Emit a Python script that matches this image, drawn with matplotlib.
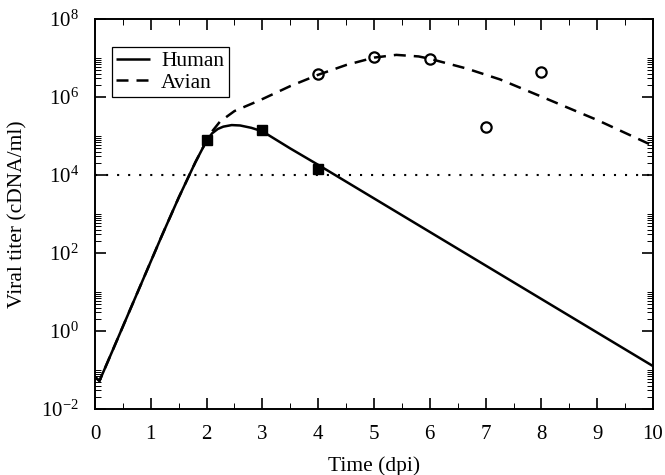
import matplotlib
matplotlib.use("Agg")
import matplotlib.pyplot as plt
import numpy as np
from matplotlib.ticker import FixedLocator, FixedFormatter, NullFormatter

plt.rcParams['font.family'] = ['Liberation Serif', 'DejaVu Serif']
plt.rcParams['mathtext.fontset'] = 'custom'
plt.rcParams['mathtext.rm'] = 'Liberation Serif'
plt.rcParams['mathtext.it'] = 'Liberation Serif:italic'

# ---- data (log10 of viral titer) ----
human_x = [0.0, 0.08, 0.3, 0.6, 0.9, 1.2, 1.5, 1.8, 2.0, 2.1, 2.2, 2.3, 2.45,
           2.6, 2.8, 3.0, 3.5, 4.0, 4.5, 5.0, 6.0, 7.0, 8.0, 9.0, 10.0]
human_log10 = [-1.18, -1.28, -0.55, 0.45, 1.45, 2.45, 3.42, 4.33, 4.88, 5.07,
               5.18, 5.24, 5.28, 5.27, 5.21, 5.12, 4.68, 4.26, 3.83, 3.40,
               2.54, 1.68, 0.82, -0.04, -0.90]

avian_x = [0.0, 0.08, 0.3, 0.6, 0.9, 1.2, 1.5, 1.8, 2.0, 2.1, 2.24, 2.5, 2.96,
           3.5, 4.0, 4.5, 5.0, 5.4, 5.8, 6.0, 6.66, 7.26, 8.0, 9.0, 10.0]
avian_log10 = [-1.18, -1.28, -0.55, 0.45, 1.45, 2.45, 3.42, 4.33, 4.88, 5.12,
               5.37, 5.64, 5.92, 6.28, 6.57, 6.82, 7.01, 7.08, 7.04, 6.98,
               6.73, 6.45, 6.01, 5.41, 4.75]

human_days = [2, 3, 4]
human_obs = [8.0e4, 1.4e5, 1.45e4]

avian_days = [4, 5, 6, 7, 8]
avian_obs = [3.9e6, 1.08e7, 9.5e6, 1.75e5, 4.3e6]

threshold = 1e4

x_ticks = [0, 1, 2, 3, 4, 5, 6, 7, 8, 9, 10]
y_tick_exps = [-2, 0, 2, 4, 6, 8]

FS = 15.5
TFS = 15

# ---- figure ----
fig = plt.figure(figsize=(6.65, 4.75), dpi=100)
ax = fig.add_axes([95/665, 66/475, 558/665, 390/475])

ax.plot(human_x, 10**np.array(human_log10), color='black', lw=1.8,
        solid_capstyle='butt', label='Human')
ax.plot(avian_x, 10**np.array(avian_log10), color='black', lw=1.8,
        dashes=(4.8, 3.2), label='Avian')
ax.axhline(threshold, color='black', lw=1.5, dashes=(1.0, 4.3))
ax.plot(human_days, human_obs, 's', color='black', ms=7.8, zorder=5)
ax.plot(avian_days, avian_obs, 'o', mfc='none', mec='black', ms=7.4,
        mew=1.6, zorder=5)

ax.set_yscale('log')
ax.set_xlim(0, 10)
ax.set_ylim(1e-2, 1e8)

ax.xaxis.set_major_locator(FixedLocator(x_ticks))
ax.xaxis.set_minor_locator(FixedLocator([t + 0.5 for t in x_ticks[:-1]]))
ax.set_xticklabels([str(t) for t in x_ticks])

ax.yaxis.set_major_locator(FixedLocator([10.0**e for e in y_tick_exps]))
ax.yaxis.set_major_formatter(FixedFormatter([r'$10^{%d}$' % e for e in y_tick_exps]))
minor = [k * 10.0**e for e in y_tick_exps[:-1] for k in range(2, 11)]
ax.yaxis.set_minor_locator(FixedLocator(minor))
ax.yaxis.set_minor_formatter(NullFormatter())

ax.tick_params(which='both', direction='in', top=True, right=True,
               labelsize=TFS, color='black')
ax.tick_params(which='major', length=8, width=1.2)
ax.tick_params(which='minor', length=4.2, width=0.7)
ax.tick_params(axis='x', which='major', pad=11.5)
ax.tick_params(axis='y', which='major', pad=11.5)

for s in ax.spines.values():
    s.set_linewidth(1.4)

ax.set_xlabel('Time (dpi)', fontsize=FS, labelpad=8.5)
ax.set_ylabel('Viral titer (cDNA/ml)', fontsize=FS, labelpad=10)

leg = ax.legend(loc='upper left', bbox_to_anchor=(0.03, 0.928),
                borderaxespad=0, fontsize=FS, frameon=True, fancybox=False,
                framealpha=1, edgecolor='black', handlelength=1.6,
                handletextpad=0.5, labelspacing=0.05, borderpad=0.2)
leg.get_frame().set_linewidth(0.9)

fig.savefig('out.png', dpi=100)
